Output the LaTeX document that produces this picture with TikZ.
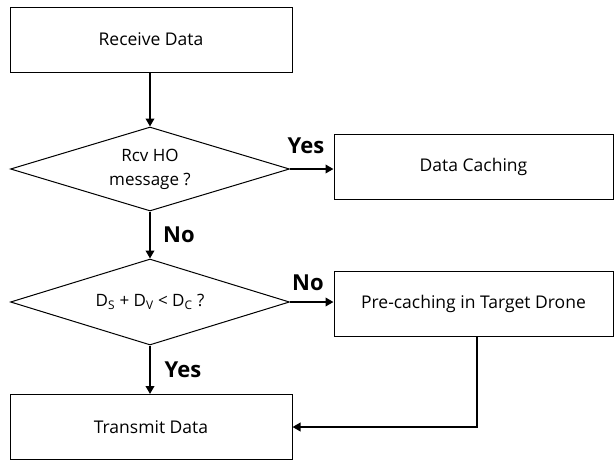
\documentclass[tikz,border=0pt]{standalone}
\usepackage{fontspec}
\setmainfont{Open Sans}
\usetikzlibrary{shapes.geometric,arrows.meta}
\begin{document}
\begin{tikzpicture}[x=1pt,y=-1pt,
  procbox/.style={draw,line width=1pt,minimum width=282pt,minimum height=65pt,inner sep=0pt,font=\fontsize{17.5}{20}\selectfont},
  decision/.style={draw,diamond,aspect=3.3,line width=1pt,minimum width=279pt,minimum height=84pt,inner sep=0pt,font=\fontsize{17}{24}\selectfont,align=center},
  flow/.style={line width=2.8pt,-{Triangle[length=8pt,width=8.5pt]}},
  lbl/.style={font=\fontsize{22}{24}\selectfont\bfseries,inner sep=0pt}]
\useasboundingbox (0,0) rectangle (614,461);
\node[procbox] (recv) at (151,39.5) {Receive Data};
\node[decision] (d1) at (150,169) {Rcv HO\\message ?};
\node[decision,minimum height=86pt] (d2) at (150,302) {D$_{\mathrm{S}}$ + D$_{\mathrm{V}}$ < D$_{\mathrm{C}}$ ?};
\node[procbox] (trans) at (151,427) {Transmit Data};
\node[procbox,minimum width=279pt] (cache) at (473.5,166.5) {Data Caching};
\node[procbox,minimum width=279pt] (pre) at (473.5,303.5) {Pre-caching in Target Drone};
\draw[flow] (recv.south -| d1.north) -- (d1.north);
\draw[flow] (d1.south) -- (d2.north);
\draw[flow] (d2.south) -- (d2.south |- trans.north);
\draw[flow] (d1.east) -- (d1.east -| cache.west);
\draw[flow] (d2.east) -- (d2.east -| pre.west);
\draw[flow] ([xshift=3.5pt]pre.south) |- (trans.east);
\node[lbl] (l1) at (306,146) {Yes};
\node[lbl] (l2) at (179,235) {No};
\node[lbl] (l3) at (308,283) {No};
\node[lbl] (l4) at (183,370) {Yes};
\end{tikzpicture}
\end{document}
